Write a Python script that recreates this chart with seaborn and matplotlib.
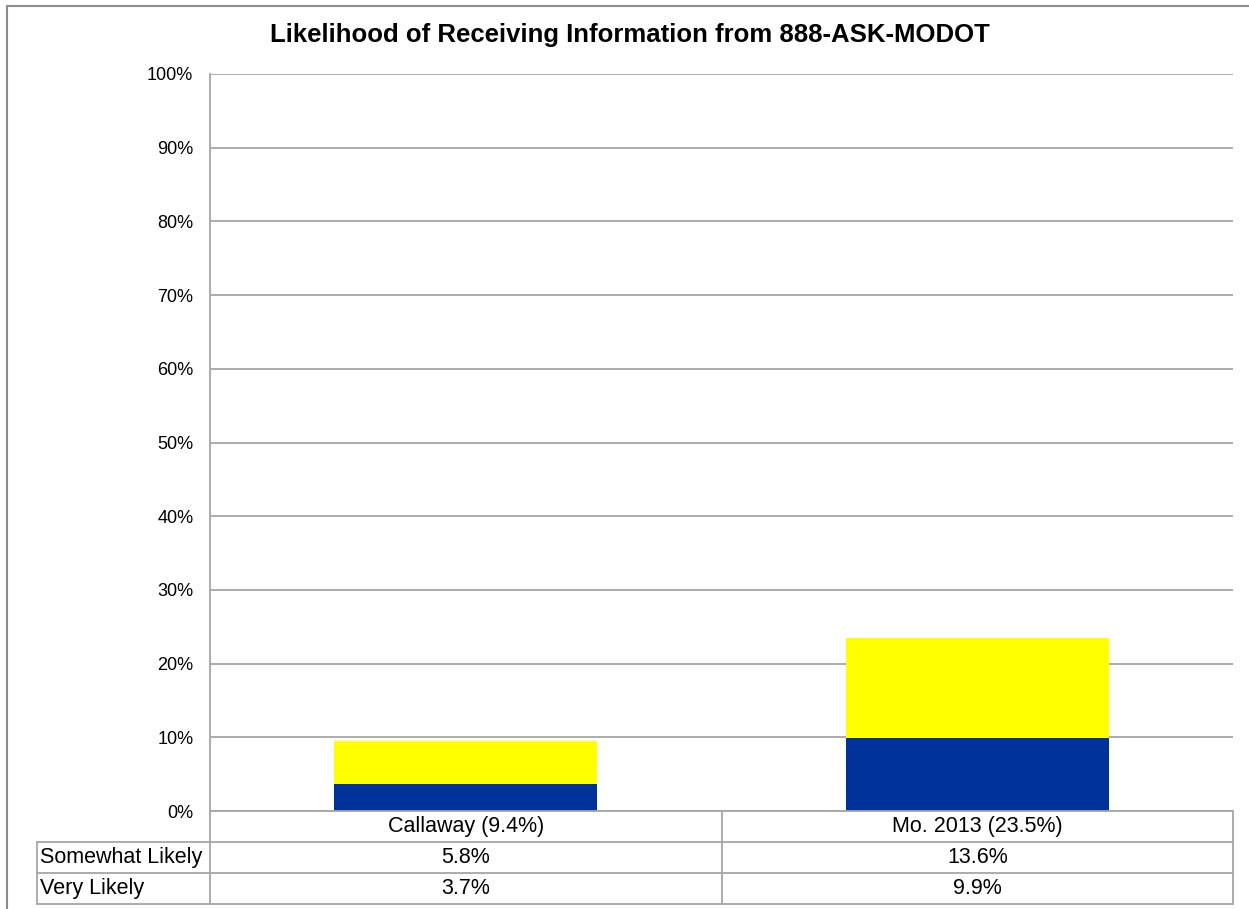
import matplotlib
matplotlib.use("Agg")
import matplotlib.pyplot as plt
from matplotlib.lines import Line2D
from matplotlib.ticker import PercentFormatter
import seaborn as sns
import pandas as pd

categories = ["Callaway (9.4%)", "Mo. 2013 (23.5%)"]
series_names = ["Somewhat Likely", "Very Likely"]
somewhat = [5.8, 13.6]
very = [3.7, 9.9]
title = "Likelihood of Receiving Information from 888-ASK-MODOT"

df = pd.DataFrame({"cat": categories, "somewhat": somewhat, "very": very})
df["total"] = df["somewhat"] + df["very"]

sns.set_style("white")
plt.rcParams["font.family"] = ["Liberation Sans", "DejaVu Sans"]
plt.rcParams["text.color"] = "black"
plt.rcParams["ytick.color"] = "black"

W, H = 1249, 909
fig = plt.figure(figsize=(W / 100, H / 100), dpi=100)
x0, x1, ytop, ybot = 210, 1233, 74, 811
ax = fig.add_axes([x0 / W, 1 - ybot / H, (x1 - x0) / W, (ybot - ytop) / H])

grid = "#a6a6a6"
sns.barplot(data=df, x="cat", y="total", color="#ffff00", width=0.515,
            saturation=1, linewidth=0, ax=ax, zorder=3)
sns.barplot(data=df, x="cat", y="very", color="#003399", width=0.515,
            saturation=1, linewidth=0, ax=ax, zorder=3)

ax.set_ylim(0, 100)
ax.set_xlim(-0.5, 1.5)
ax.set_yticks(range(0, 101, 10))
ax.yaxis.set_major_formatter(PercentFormatter(decimals=0))
ax.tick_params(axis="y", labelsize=13, length=0, pad=12, labelcolor="black")
ax.set_xticks([])
ax.set_xlabel("")
ax.set_ylabel("")
ax.grid(axis="y", color=grid, linewidth=1.3, zorder=0)
ax.set_axisbelow(True)
for s in ["top", "right", "bottom"]:
    ax.spines[s].set_visible(False)
ax.spines["left"].set_color(grid)
ax.spines["left"].set_linewidth(1.3)

fig.text(630 / W, 1 - 35 / H, title, ha="center", va="center",
         fontsize=18.5, fontweight="bold", color="black")

# data table under the plot
def hline(xa, xb, y):
    fig.add_artist(Line2D([xa / W, xb / W], [1 - y / H, 1 - y / H], color=grid, lw=1.3))

def vline(x, ya, yb):
    fig.add_artist(Line2D([x / W, x / W], [1 - ya / H, 1 - yb / H], color=grid, lw=1.3))

rows = [811, 842, 873, 904]
colx = [x0, 722, x1]
hline(x0, x1, rows[0])
for y in rows[1:]:
    hline(37, x1, y)
vline(37, rows[1], rows[3])
for x in colx:
    vline(x, rows[0], rows[3])

fs = 15.5
for i, cat in enumerate(categories):
    cx = (colx[i] + colx[i + 1]) / 2
    fig.text(cx / W, 1 - (rows[0] + rows[1]) / 2 / H, cat, ha="center", va="center", fontsize=fs)
    fig.text(cx / W, 1 - (rows[1] + rows[2]) / 2 / H, f"{somewhat[i]:.1f}%", ha="center", va="center", fontsize=fs)
    fig.text(cx / W, 1 - (rows[2] + rows[3]) / 2 / H, f"{very[i]:.1f}%", ha="center", va="center", fontsize=fs)
for j, name in enumerate(series_names):
    fig.text(40 / W, 1 - (rows[j + 1] + rows[j + 2]) / 2 / H, name, ha="left", va="center", fontsize=fs)

# outer chart frame
fig.add_artist(Line2D([7 / W, 1], [1 - 6 / H, 1 - 6 / H], color="#8c8c8c", lw=1.5))
fig.add_artist(Line2D([7 / W, 7 / W], [1 - 6 / H, 0], color="#8c8c8c", lw=1.5))

fig.savefig("out.png", dpi=100)
